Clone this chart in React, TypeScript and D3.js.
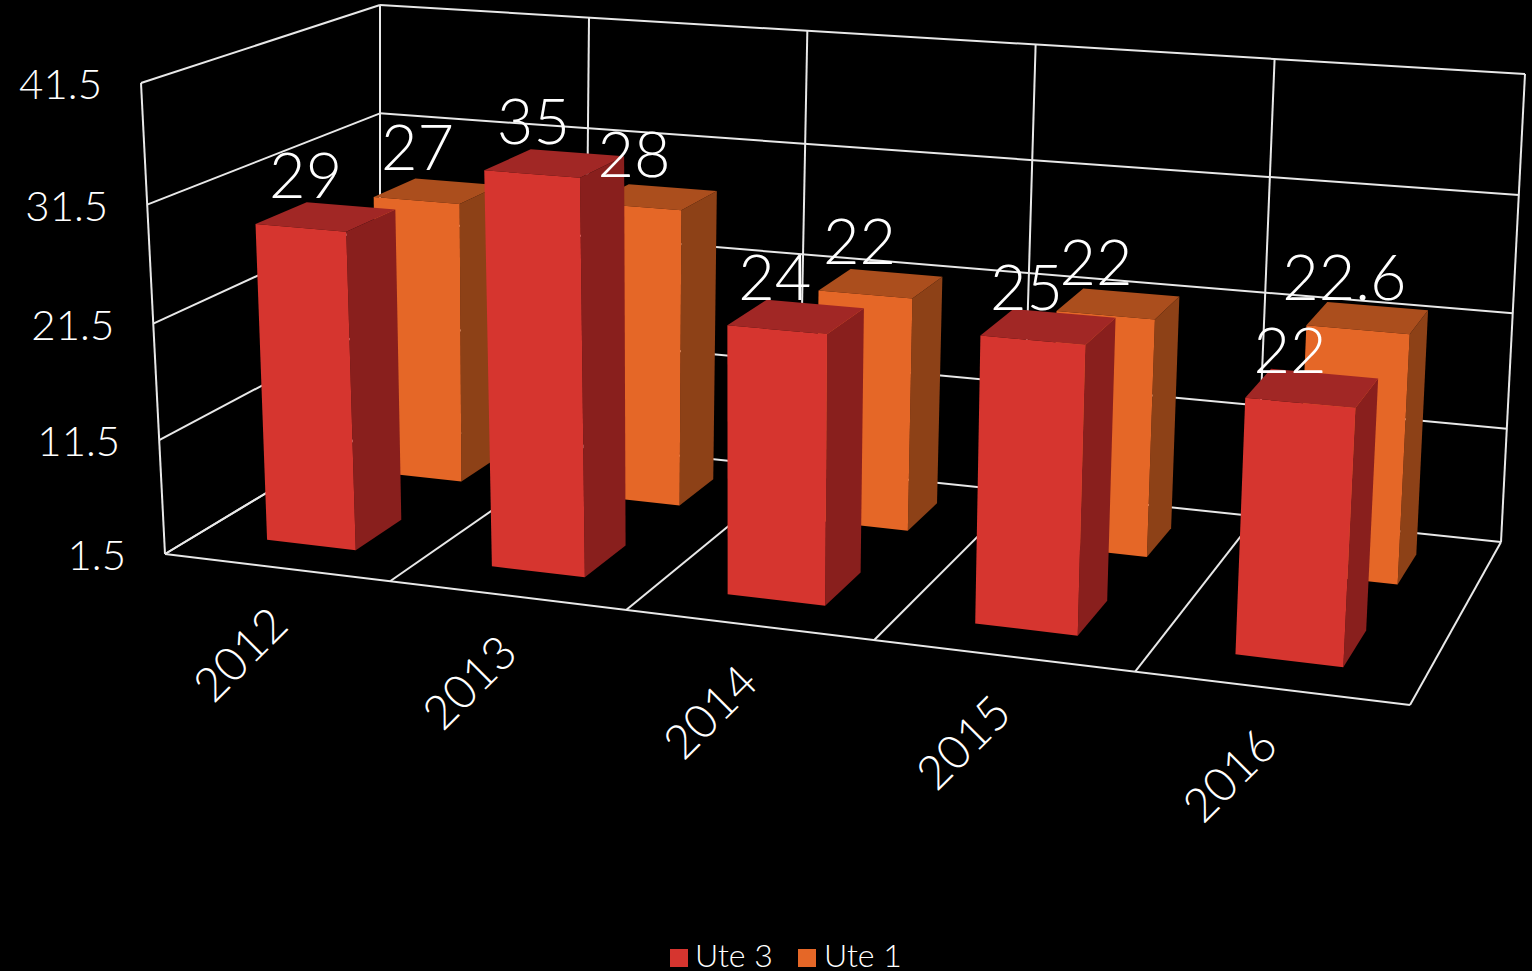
import * as d3 from "d3";

const categories = ["2012", "2013", "2014", "2015", "2016"];
const ute3 = [29, 35, 24, 25, 22];
const ute1 = [27, 28, 22, 22, 22.6];
const axisTicks = [1.5, 11.5, 21.5, 31.5, 41.5];

const redColors = { front: "#d6352f", top: "#a12725", side: "#891f1d" };
const orangeColors = { front: "#e56727", top: "#ab4e1d", side: "#8d4117" };

const FONT = "Lato, 'Open Sans', sans-serif";
const GRID = "#e8e8e8";

type P = [number, number];

// square -> quad homography, corners in order (0,0) (1,0) (1,1) (0,1)
function quadMap(q: P[]) {
    const [[x0, y0], [x1, y1], [x2, y2], [x3, y3]] = q;
    const dx1 = x1 - x2, dx2 = x3 - x2, sx = x0 - x1 + x2 - x3;
    const dy1 = y1 - y2, dy2 = y3 - y2, sy = y0 - y1 + y2 - y3;
    const det = dx1 * dy2 - dx2 * dy1;
    const g = (sx * dy2 - dx2 * sy) / det;
    const h = (dx1 * sy - sx * dy1) / det;
    const a = x1 - x0 + g * x1, b = x3 - x0 + h * x3;
    const d = y1 - y0 + g * y1, e = y3 - y0 + h * y3;
    return (u: number, v: number): P => {
        const w = g * u + h * v + 1;
        return [(a * u + b * v + x0) / w, (d * u + e * v + y0) / w];
    };
}

// floor and ceiling of the box: front-left, front-right, back-right, back-left
const floor = quadMap([[165, 554], [1410, 705], [1501, 542], [380, 424.3]]);
const ceiling = quadMap([[141, 83], [1438, 174], [1525, 74], [380, 5]]);
const heightPersp = 0.957;

function project(u: number, v: number, w: number): P {
    const a = floor(u, v);
    const b = ceiling(u, v);
    const s = (w * heightPersp) / (1 - w + w * heightPersp);
    return [a[0] + (b[0] - a[0]) * s, a[1] + (b[1] - a[1]) * s];
}

const uScale = d3.scaleBand<string>().domain(categories).range([0, 1]).paddingInner(0.6).paddingOuter(0.3);
const wScale = d3.scaleLinear().domain([1.5, 41.5]).range([0, 1]);
// labels drift left of their bars going across the chart
const labelShift = d3.scaleLinear().domain([300, 1300]).range([5, -10]);
const catShift = d3.scaleLinear().domain([300, 1300]).range([1, -4]);

const line = d3.line();

function Bar({ cat, value, v0, v1, du, colors }: any) {
    const u0 = (uScale(cat) as number) + du;
    const u1 = u0 + uScale.bandwidth();
    const w = wScale(value);
    const poly = (pts: P[]) => (line(pts) as string) + "Z";
    return (
        <g>
            <path d={poly([project(u1, v0, 0), project(u1, v1, 0), project(u1, v1, w), project(u1, v0, w)])} fill={colors.side} />
            <path d={poly([project(u0, v0, w), project(u1, v0, w), project(u1, v1, w), project(u0, v1, w)])} fill={colors.top} />
            <path d={poly([project(u0, v0, 0), project(u1, v0, 0), project(u1, v0, w), project(u0, v0, w)])} fill={colors.front} />
        </g>
    );
}

function BarLabel({ cat, value, v0 }: any) {
    const u = (uScale(cat) as number) + uScale.bandwidth() / 2;
    const [x, y] = project(u, v0, wScale(value));
    return (
        <text x={x + labelShift(x)} y={y - 30} textAnchor="middle" fontSize={63} fontWeight={300} fill="#fff" fontFamily={FONT}>
            {value}
        </text>
    );
}

export default function App() {
    const step = 1 / categories.length;
    const seg = (a: P, b: P, key: string) => (
        <line key={key} x1={a[0]} y1={a[1]} x2={b[0]} y2={b[1]} stroke={GRID} strokeWidth={2} />
    );
    const front3 = { v0: 0.155, v1: 0.37, du: 0 };
    const front1 = { v0: 0.66, v1: 0.86, du: 0.002 };
    return (
        <svg width={1532} height={971} style={{ position: "absolute", left: 0, top: 0, background: "#000" }}>
            {/* walls */}
            {axisTicks.map((t) => {
                const w = wScale(t);
                return (
                    <g key={t}>
                        {seg(project(0, 0, w), project(0, 1, w), "l")}
                        {seg(project(0, 1, w), project(1, 1, w), "b")}
                    </g>
                );
            })}
            {seg(project(0, 0, 0), project(0, 0, 1), "left-front")}
            {d3.range(0, categories.length + 1).map((i) => (
                <g key={i}>
                    {seg(project(i * step, 1, 0), project(i * step, 1, 1), "v")}
                    {seg(project(i * step, 0, 0), project(i * step, 1, 0), "f")}
                </g>
            ))}
            {seg(project(0, 0, 0), project(1, 0, 0), "front")}

            {axisTicks.map((t) => {
                const [x, y] = project(0, 0, wScale(t));
                return (
                    <text key={t} x={x - 39} y={y + 16} textAnchor="end" fontSize={42} fontWeight={300} fill="#fff" fontFamily={FONT}>
                        {t}
                    </text>
                );
            })}

            {/* bars, back row first */}
            {categories.map((c, i) => <Bar key={c} cat={c} value={ute1[i]} {...front1} colors={orangeColors} />)}
            {categories.map((c, i) => <Bar key={c} cat={c} value={ute3[i]} {...front3} colors={redColors} />)}

            {categories.map((c, i) => <BarLabel key={c} cat={c} value={ute1[i]} v0={front1.v0} />)}
            {categories.map((c, i) => <BarLabel key={c} cat={c} value={ute3[i]} v0={front3.v0} />)}

            {categories.map((c) => {
                const [x, y] = project((uScale(c) as number) + uScale.bandwidth() / 2, 0, 0);
                return (
                    <text key={c} transform={`translate(${x - 37 + catShift(x)},${y + 87}) rotate(-45)`} dy="0.35em" textAnchor="middle" fontSize={47} fontWeight={300} fill="#fff" fontFamily={FONT}>
                        {c}
                    </text>
                );
            })}

            {/* legend */}
            <rect x={670} y={949} width={18} height={18} fill={redColors.front} />
            <text x={695} y={967} fontSize={32} fontWeight={300} fill="#fff" fontFamily={FONT}>Ute 3</text>
            <rect x={798} y={949} width={18} height={18} fill={orangeColors.front} />
            <text x={824} y={967} fontSize={32} fontWeight={300} fill="#fff" fontFamily={FONT}>Ute 1</text>
        </svg>
    );
}
